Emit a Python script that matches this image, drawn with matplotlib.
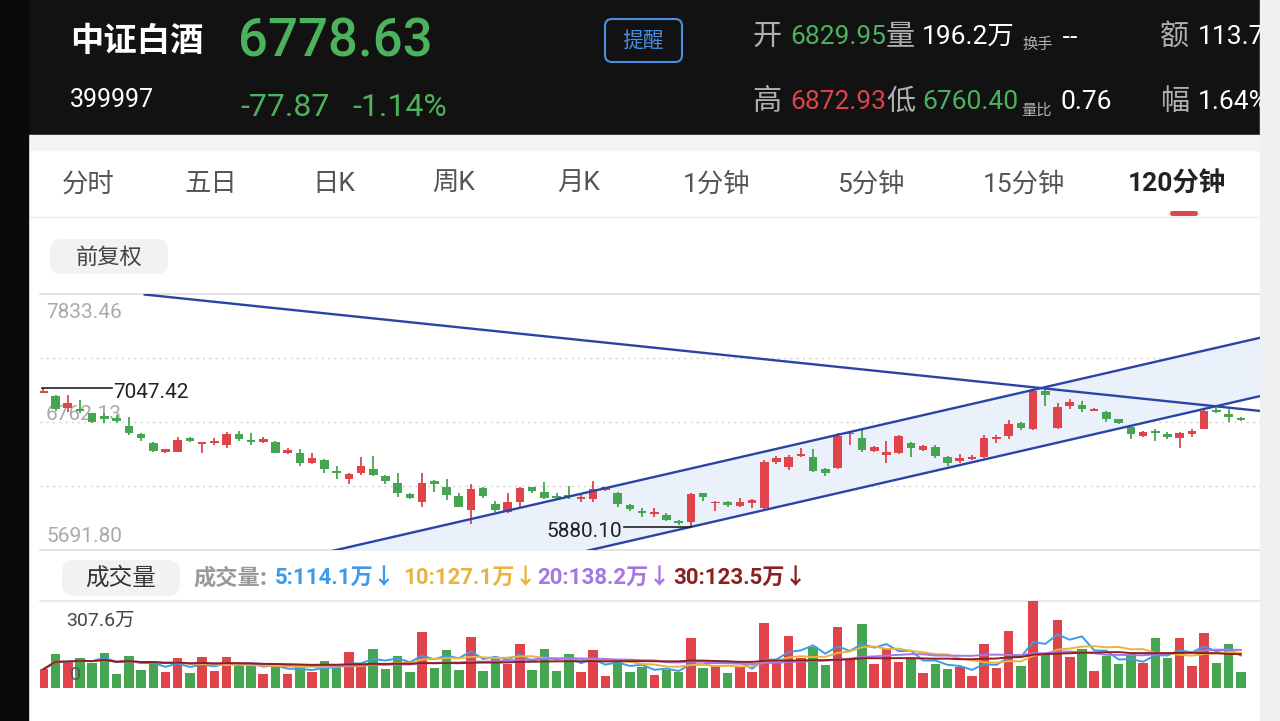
import numpy as np
import pandas as pd
import matplotlib
matplotlib.use('Agg')
import matplotlib.pyplot as plt
from matplotlib.patches import FancyBboxPatch, Rectangle

plt.rcParams['font.family'] = ['Roboto', 'Noto Sans CJK SC', 'DejaVu Sans']
CJK = ['Noto Sans CJK SC', 'DejaVu Sans']

# 120-minute candles (open, high, low, close)
opens = [7008, 6980, 6877, 6869, 6835, 6813, 6793, 6732, 6659, 6590,
         6509, 6514, 6626, 6579, 6584, 6570, 6659, 6612, 6595, 6595,
         6500, 6506, 6417, 6445, 6355, 6286, 6339, 6369, 6311, 6249,
         6160, 6090, 6269, 6222, 6143, 6026, 6208, 6074, 6007, 6096,
         6216, 6180, 6143, 6152, 6121, 6118, 6194, 6171, 6065, 6018,
         5993, 5984, 5934, 5929, 6166, 6082, 6096, 6060, 6088, 6046,
         6431, 6383, 6478, 6467, 6367, 6375, 6662, 6626, 6523, 6487,
         6506, 6590, 6528, 6556, 6467, 6439, 6453, 6473, 6620, 6645,
         6751, 6701, 7020, 6710, 6896, 6905, 6857, 6849, 6785, 6723,
         6648, 6690, 6662, 6626, 6662, 6704, 6863, 6830, 6795]
highs = [7047.42, 6988, 6988, 6947, 6841, 6835, 6821, 6807, 6668, 6598,
         6539, 6640, 6640, 6598, 6626, 6682, 6687, 6668, 6634, 6604,
         6542, 6534, 6500, 6450, 6394, 6339, 6473, 6481, 6319, 6333,
         6166, 6339, 6277, 6286, 6171, 6244, 6216, 6104, 6166, 6222,
         6222, 6258, 6171, 6227, 6152, 6272, 6222, 6177, 6077, 6040,
         6040, 6004, 5943, 6166, 6171, 6104, 6102, 6124, 6116, 6445,
         6478, 6487, 6542, 6537, 6380, 6668, 6690, 6710, 6562, 6604,
         6654, 6598, 6567, 6570, 6478, 6495, 6487, 6654, 6654, 6779,
         6765, 7040, 7035, 6924, 6952, 6941, 6876, 6857, 6788, 6737,
         6687, 6704, 6682, 6682, 6701, 6869, 6877, 6873, 6807]
lows = [7002, 6857, 6849, 6835, 6757, 6751, 6751, 6654, 6604, 6512,
        6506, 6509, 6592, 6506, 6570, 6542, 6606, 6570, 6584, 6500,
        6495, 6397, 6411, 6333, 6288, 6241, 6319, 6311, 6244, 6132,
        6118, 6054, 6174, 6110, 6049, 5909, 6124, 6012, 5998, 6040,
        6166, 6116, 6110, 6116, 6096, 6090, 6188, 6049, 6021, 5971,
        5971, 5937, 5901, 5880.10, 6104, 6021, 6054, 6049, 6040, 6035,
        6411, 6361, 6467, 6347, 6314, 6372, 6570, 6514, 6514, 6417,
        6495, 6473, 6523, 6459, 6394, 6422, 6445, 6459, 6584, 6618,
        6696, 6696, 6896, 6704, 6869, 6849, 6855, 6765, 6746, 6620,
        6640, 6604, 6618, 6548, 6640, 6701, 6841, 6760, 6775]
closes = [7022, 6869, 6924, 6855, 6765, 6785, 6774, 6668, 6626, 6520,
          6534, 6612, 6601, 6592, 6604, 6659, 6618, 6595, 6623, 6506,
          6528, 6417, 6464, 6367, 6333, 6325, 6394, 6319, 6269, 6171,
          6124, 6249, 6244, 6152, 6054, 6202, 6146, 6026, 6093, 6208,
          6185, 6124, 6124, 6132, 6138, 6199, 6216, 6074, 6032, 5998,
          6012, 5943, 5915, 6157, 6138, 6096, 6068, 6096, 6110, 6431,
          6459, 6473, 6495, 6355, 6333, 6645, 6673, 6528, 6551, 6514,
          6645, 6542, 6562, 6478, 6417, 6464, 6473, 6626, 6640, 6743,
          6710, 7025, 6988, 6885, 6933, 6869, 6874, 6785, 6751, 6662,
          6682, 6668, 6640, 6668, 6687, 6857, 6849, 6807, 6778.63]
# volume, 万
volumes = [66, 119, 95, 105, 90, 123, 50, 113, 64, 93,
           55, 107, 52, 108, 60, 108, 78, 81, 51, 81,
           51, 75, 58, 97, 75, 126, 79, 138, 67, 113,
           58, 197, 72, 134, 64, 182, 60, 111, 84, 154,
           65, 138, 60, 121, 55, 134, 44, 99, 58, 75,
           46, 64, 58, 178, 72, 81, 52, 78, 58, 229,
           87, 185, 107, 146, 81, 217, 105, 226, 85, 143,
           93, 111, 54, 85, 67, 73, 42, 154, 72, 202,
           79, 307.6, 119, 240, 108, 138, 60, 113, 84, 119,
           87, 178, 107, 178, 79, 196, 87, 154, 58]

price_top = 7833.46
price_bottom = 5691.80
max_price = 7047.42
min_price = 5880.10
vol_top = 307.6

# hand-drawn trend lines: (candle index, price)
down_x, down_y = [8.3, 99.6], [7829, 6855]
chan_x = [23.0, 99.6]
chan_hi_y = [5669, 7468]
chan_lo_y = [5180, 6980]

tabs = ['分时', '五日', '日K', '周K', '月K', '1分钟', '5分钟', '15分钟', '120分钟']
tab_x = [62, 185, 312, 432, 557, 683, 837, 983, 1128]

ma_periods = [5, 10, 20, 30]
ma_labels = ['5:114.1万↓', '10:127.1万↓', '20:138.2万↓', '30:123.5万↓']
ma_colors = ['#3d9be9', '#e9b43c', '#a676e6', '#8c1f1f']
ma_x = [275, 403, 537, 673]

RED = '#e0444a'
GREEN = '#46a550'
HDR_GREEN = '#4cb35c'
GRAY = '#b0b0b0'

W, H = 1280, 721
fig = plt.figure(figsize=(12.8, 7.21), dpi=100)
fig.patch.set_facecolor('white')


def px_axes(x0, y0, x1, y1):
    return fig.add_axes([x0 / W, 1 - y1 / H, (x1 - x0) / W, (y1 - y0) / H])


bg = fig.add_axes([0, 0, 1, 1])
bg.set_xlim(0, W)
bg.set_ylim(H, 0)
bg.axis('off')

# frame and header
bg.add_patch(Rectangle((28, 0), 1232, 135, color='#121212', zorder=1))
bg.add_patch(Rectangle((28, 135), 1232, 15, color='#f4f4f4', zorder=1))
bg.add_patch(Rectangle((0, 0), 28, H, color='#0a0a0a', zorder=10))
bg.add_patch(Rectangle((1260, 0), 20, H, color='#f0f0f0', zorder=10))

bg.text(70, 41, '中证白酒', color='white', fontsize=24, fontweight='bold', family=CJK, va='center')
bg.text(238, 42, '6778.63', color=HDR_GREEN, fontsize=38, fontweight='medium', va='center')
bg.text(70, 100, '399997', color='white', fontsize=18, va='center')
bg.text(240, 108, '-77.87', color=HDR_GREEN, fontsize=23, va='center')
bg.text(352, 108, '-1.14%', color=HDR_GREEN, fontsize=23, va='center')

bg.add_patch(FancyBboxPatch((605, 19), 77, 43, boxstyle='round,pad=0,rounding_size=7',
                            fc='none', ec='#4a8fe0', lw=1.5, zorder=2))
bg.text(643, 41, '提醒', color='#4a8fe0', fontsize=15, family=CJK, ha='center', va='center')

row1, row2 = 37, 102
for y, items in [(row1, [(752, '开', GRAY, 21), (790, '6829.95', HDR_GREEN, 19),
                          (886, '量', GRAY, 21), (922, '196.2万', 'white', 19),
                          (1160, '额', GRAY, 21), (1198, '113.7', 'white', 19)]),
                 (row2, [(752, '高', GRAY, 21), (790, '6872.93', RED, 19),
                          (886, '低', GRAY, 21), (922, '6760.40', HDR_GREEN, 19),
                          (1060, '0.76', 'white', 19), (1160, '幅', GRAY, 21),
                          (1198, '1.64%', 'white', 19)])]:
    for x, s, c, fs in items:
        bg.text(x, y, s, color=c, fontsize=fs, va='center')
bg.text(1062, row1, '--', color='white', fontsize=17, family=['DejaVu Sans'], va='center')
bg.text(1022, row1 + 7, '换手', color=GRAY, fontsize=11, family=CJK, va='center')
bg.text(1021, row2 + 8, '量比', color=GRAY, fontsize=11, family=CJK, va='center')

# period tabs
for x, s in zip(tab_x, tabs):
    bold = s == '120分钟'
    bg.text(x, 184, s, color='#222222' if bold else '#555555', fontsize=19,
            fontweight='bold' if bold else 'normal', va='center')
bg.add_patch(FancyBboxPatch((1170, 211), 28, 5, boxstyle='round,pad=0,rounding_size=2.5',
                            fc='#e04848', ec='none'))
bg.plot([28, 1260], [217, 217], color='#ececec', lw=1)

bg.add_patch(FancyBboxPatch((50, 239), 118, 35, boxstyle='round,pad=0,rounding_size=11',
                            fc='#f1f2f4', ec='none'))
bg.text(109, 257, '前复权', color='#444444', fontsize=16, family=CJK, ha='center', va='center')

for y, c in [(294, '#dedede'), (550, '#dedede'), (601, '#e6e6e6')]:
    bg.plot([40, 1260], [y, y], color=c, lw=1.2)

bg.text(46, 313, f'{price_top:.2f}', color='#aaaaaa', fontsize=15, va='center')
bg.text(46, 415, '6762.13', color='#aaaaaa', fontsize=15, va='center', zorder=5)
bg.text(46, 537, f'{price_bottom:.2f}', color='#aaaaaa', fontsize=15, va='center')

# volume header
bg.add_patch(FancyBboxPatch((62, 560), 118, 36, boxstyle='round,pad=0,rounding_size=12',
                            fc='#f1f2f4', ec='none'))
bg.text(121, 578, '成交量', color='#333333', fontsize=17, family=CJK, ha='center', va='center')
bg.text(193, 578, '成交量:', color='#999999', fontsize=16, fontweight='bold', family=CJK, va='center')
for x, s, c in zip(ma_x, ma_labels, ma_colors):
    bg.text(x, 578, s, color=c, fontsize=16, fontweight='bold', va='center')

# price panel
x = np.arange(len(opens))
o = np.array(opens)
c = np.array(closes)
cols = [RED if cc >= oo else GREEN for oo, cc in zip(o, c)]

ax = px_axes(40, 294, 1260, 550)
ax.set_xlim(-0.27, 99.57)
ax.set_ylim(price_bottom, price_top)
ax.axis('off')
ax.patch.set_alpha(0)

step = (price_top - price_bottom) / 4
for k in (1, 2, 3):
    ax.axhline(price_bottom + k * step, color='#d2d2d2', ls=(0, (1.5, 3)), lw=1, zorder=0)

ax.fill_between(chan_x, chan_lo_y, chan_hi_y, color='#eaf1fb', zorder=1, lw=0)
ax.vlines(x, lows, highs, colors=cols, lw=1.3, zorder=2)
ax.bar(x, np.maximum(np.abs(c - o), 7), bottom=np.minimum(o, c), width=0.7,
       color=cols, zorder=3)
ax.plot(down_x, down_y, color='#2a44a6', lw=1.7, zorder=4)
ax.plot(chan_x, chan_hi_y, color='#2a44a6', lw=1.7, zorder=4)
ax.plot(chan_x, chan_lo_y, color='#2a44a6', lw=1.7, zorder=4)

i_max = int(np.argmax(highs))
i_min = int(np.argmin(lows))
ax.plot([i_max - 0.1, i_max + 5.6], [max_price, max_price], color='#222222', lw=1.2, zorder=5)
ax.text(i_max + 5.75, max_price - 35, f'{max_price:.2f}', color='#222222', fontsize=15,
        va='center', zorder=5)
ax.plot([i_min - 5.5, i_min], [min_price, min_price], color='#222222', lw=1.2, zorder=5)
ax.text(i_min - 5.65, min_price - 35, f'{min_price:.2f}', color='#222222', fontsize=15,
        va='center', ha='right', zorder=5)

# volume panel
vax = px_axes(40, 601, 1260, 688)
vax.set_xlim(-0.27, 99.57)
vax.set_ylim(0, vol_top)
vax.axis('off')
vax.patch.set_alpha(0)
vax.bar(x, volumes, width=0.78, color=cols, zorder=2)
vol = pd.Series(volumes)
for n, col in zip(ma_periods, ma_colors):
    vax.plot(x, vol.rolling(n, min_periods=1).mean(), color=col, lw=1.4, zorder=3)

bg.text(66, 621, f'{vol_top}万', color='#444444', fontsize=14, va='center')
vax.text(2.2, 46, '0', color='#555555', fontsize=14, va='center', zorder=5)

fig.savefig('out.png', dpi=100)
